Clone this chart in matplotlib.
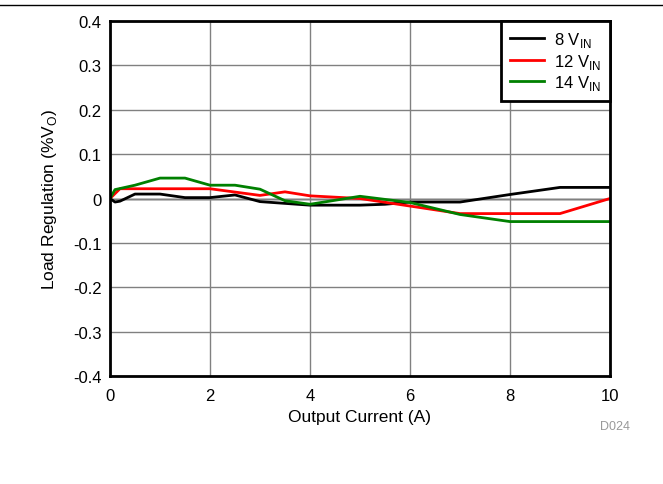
import matplotlib.pyplot as plt

plt.rcParams['font.family'] = ['Liberation Sans', 'DejaVu Sans']

# output current (A) and load regulation (%VO) for each input voltage
i_8v = [0, 0.1, 0.2, 0.5, 1, 1.5, 2, 2.5, 3, 4, 5, 5.5, 6, 7, 8, 9, 10]
reg_8v = [0, -0.008, -0.006, 0.01, 0.01, 0.002, 0.002, 0.008, -0.007, -0.015,
          -0.015, -0.013, -0.008, -0.008, 0.009, 0.025, 0.025]

i_12v = [0, 0.2, 1, 2, 3, 3.5, 4, 5, 6, 7, 8, 9, 10]
reg_12v = [0, 0.022, 0.022, 0.022, 0.007, 0.015, 0.006, 0.0, -0.017, -0.034,
           -0.034, -0.034, 0]

i_14v = [0, 0.1, 0.5, 1, 1.5, 2, 2.5, 3, 3.5, 4, 5, 6, 7, 8, 9, 10]
reg_14v = [0, 0.02, 0.03, 0.046, 0.046, 0.03, 0.03, 0.021, -0.005, -0.013,
           0.005, -0.009, -0.036, -0.052, -0.052, -0.052]

fig = plt.figure(figsize=(6.63, 4.85), dpi=100)
ax = fig.add_axes([0.1659, 0.2227, 0.7541, 0.7319])

ax.plot(i_8v, reg_8v, color='black', lw=2, label='8 V$_{\\mathregular{IN}}$')
ax.plot(i_12v, reg_12v, color='red', lw=2, label='12 V$_{\\mathregular{IN}}$')
ax.plot(i_14v, reg_14v, color='green', lw=2, label='14 V$_{\\mathregular{IN}}$')

ax.set_xlim(0, 10)
ax.set_ylim(-0.4, 0.4)
ax.set_xticks([0, 2, 4, 6, 8, 10])
ax.set_yticks([-0.4, -0.3, -0.2, -0.1, 0, 0.1, 0.2, 0.3, 0.4])
ax.set_yticklabels(['-0.4', '-0.3', '-0.2', '-0.1', '0', '0.1', '0.2', '0.3', '0.4'])
ax.tick_params(axis='both', length=0, labelsize=12)
ax.tick_params(axis='x', pad=9)
ax.tick_params(axis='y', pad=6)
ax.grid(True, color='#808080', lw=1)
ax.axhline(0, color='black', lw=1, zorder=1)
for s in ax.spines.values():
    s.set_linewidth(2)

ax.set_xlabel('Output Current (A)', fontsize=12.5, labelpad=4)
ax.set_ylabel('Load Regulation (%V$_{\\mathregular{O}}$)', fontsize=12.5, labelpad=10)

leg = ax.legend(loc='upper right', fontsize=12, fancybox=False, framealpha=1,
                borderaxespad=0, handlelength=2.0, handletextpad=0.6,
                labelspacing=0.15, borderpad=0.55)
leg.get_frame().set_edgecolor('black')
leg.get_frame().set_linewidth(2)

fig.add_artist(plt.Line2D([0, 1], [0.9876, 0.9876], color='black', lw=1))
fig.text(0.928, 0.1196, 'D024', color='#999999', fontsize=9, ha='center', va='center')

fig.savefig('out.png', dpi=100)
